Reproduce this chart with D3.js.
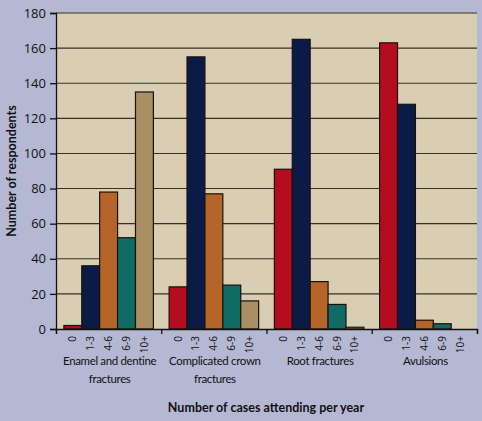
<!DOCTYPE html>
<html><head><meta charset="utf-8">
<script src="https://cdn.jsdelivr.net/npm/d3@7"></script>
<style>body{margin:0;background:#b5b8d3;}svg{display:block;}</style>
</head><body>
<svg id="c" width="482" height="421"></svg>
<script>
const categories = [["Enamel and dentine","fractures"],["Complicated crown","fractures"],["Root fractures"],["Avulsions"]];
const bins = ["0","1-3","4-6","6-9","10+"];
const v0   = [2, 24, 91, 163];
const v13  = [36, 155, 165, 128];
const v46  = [78, 77, 27, 5];
const v69  = [52, 25, 14, 3];
const v10p = [135, 16, 1, 0];
const yTicks = [0,20,40,60,80,100,120,140,160,180];
const colors = ["#b30d1f","#0c1a48","#b5642a","#0e6b66","#a98f63"];
const series = [v0, v13, v46, v69, v10p];

const svg = d3.select("#c");
const W = 482, H = 421;
svg.append("rect").attr("width",W).attr("height",H).attr("fill","#b5b8d3");
const m = {l:56, r:5, t:13, b:92};
const iw = W - m.l - m.r, ih = H - m.t - m.b;
const g = svg.append("g").attr("transform",`translate(${m.l},${m.t})`);
const font = "'Open Sans', sans-serif";
const font2 = "Lato, sans-serif";

const x0 = d3.scaleBand().domain(d3.range(categories.length)).range([0, iw]).paddingInner(0).paddingOuter(0);
const x1 = d3.scaleBand().domain(bins).range([0, x0.bandwidth()]).paddingOuter(0.44).paddingInner(0);
const y = d3.scaleLinear().domain([0,180]).range([ih, 0]);

g.append("rect").attr("width",iw).attr("height",ih).attr("fill","#d9cdb3");
g.selectAll(".grid").data(yTicks.slice(1)).join("line")
  .attr("x1",0).attr("x2",iw).attr("y1",d=>y(d)).attr("y2",d=>y(d))
  .attr("stroke","#3a3020").attr("stroke-width",1.1);

categories.forEach((c,ci)=>{
  const gg = g.append("g").attr("transform",`translate(${x0(ci)},0)`);
  bins.forEach((b,bi)=>{
    const v = series[bi][ci];
    if (v>0) gg.append("rect").attr("x",x1(b)).attr("width",x1.bandwidth())
      .attr("y",y(v)).attr("height",ih - y(v))
      .attr("fill",colors[bi]).attr("stroke","#1a1208").attr("stroke-width",1.2);
    gg.append("text").attr("transform",`translate(${x1(b)+x1.bandwidth()/2+3.5},${ih+7}) rotate(-90)`)
      .attr("text-anchor","end").attr("font-family",font).attr("font-size",10).attr("fill","#111").text(b);
  });
  c.forEach((t,li)=>{
    gg.append("text").attr("x",x0.bandwidth()/2 + 1).attr("y",ih+36+li*18)
      .attr("text-anchor","middle").attr("font-family",font2).attr("font-size",11.5)
      .attr("letter-spacing",-0.35).attr("fill","#111").text(t);
  });
});

// y axis
const ya = g.append("g").call(d3.axisLeft(y).tickValues(yTicks).tickSize(6).tickPadding(4));
ya.select(".domain").attr("stroke","#111").attr("stroke-width",1.3);
ya.selectAll(".tick line").attr("stroke","#111").attr("stroke-width",1.3);
ya.selectAll("text").attr("font-family",font).attr("font-size",13).attr("fill","#111");
// x axis
const xa = g.append("g").attr("transform",`translate(0,${ih})`)
  .call(d3.axisBottom(d3.scaleLinear().domain([0,4]).range([0,iw])).tickValues([0,1,2,3,4]).tickSize(5).tickFormat(""));
xa.select(".domain").attr("stroke","#111").attr("stroke-width",1.3);
xa.selectAll(".tick line").attr("stroke","#111").attr("stroke-width",1.3);

svg.append("text").attr("x",266).attr("y",412).attr("text-anchor","middle")
  .attr("font-family",font2).attr("font-size",12.5).attr("font-weight",700).attr("fill","#111")
  .text("Number of cases attending per year");
svg.append("text").attr("transform",`translate(16,${m.t+ih/2}) rotate(-90)`).attr("text-anchor","middle")
  .attr("font-family",font2).attr("font-size",12.5).attr("font-weight",700).attr("fill","#111")
  .text("Number of respondents");
</script>
</body></html>
